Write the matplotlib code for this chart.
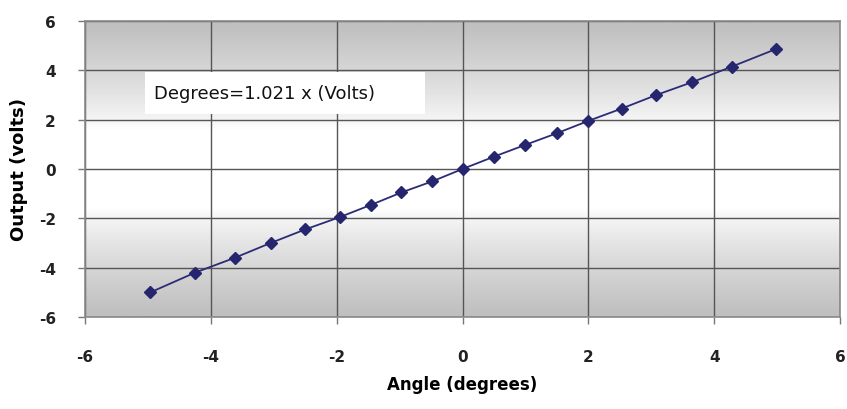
import numpy as np
import matplotlib
matplotlib.use("Agg")
import matplotlib.pyplot as plt
from matplotlib.colors import LinearSegmentedColormap
from matplotlib.patches import Rectangle

angle = [-4.96, -4.25, -3.62, -3.05, -2.5, -1.95, -1.45, -0.97, -0.48, 0.0,
         0.5, 1.0, 1.5, 2.0, 2.53, 3.08, 3.65, 4.28, 4.98]
output = [-5.0, -4.2, -3.6, -3.0, -2.45, -1.95, -1.45, -0.95, -0.5, 0.0,
          0.5, 0.98, 1.45, 1.95, 2.45, 3.0, 3.52, 4.15, 4.86]
ticks = [-6, -4, -2, 0, 2, 4, 6]
annotation = "Degrees=1.021 x (Volts)"

plt.rcParams['font.family'] = ['DejaVu Sans']

fig = plt.figure(figsize=(8.47, 4.10), dpi=100)
ax = fig.add_axes([85/847, 1-318/410, 755/847, 296/410])

# vertical gradient background: gray at top & bottom, white in middle
cmap = LinearSegmentedColormap.from_list("g", ["#ffffff", "#c0c0c0"], N=1024)
yy = np.linspace(-6, 6, 1200)
t = np.clip((np.abs(yy) - 1.6) / 4.2, 0, 1) ** 0.8
ax.imshow(t[:, None], extent=[-6, 6, -6, 6], aspect='auto', cmap=cmap,
          vmin=0, vmax=1, zorder=0, origin='lower', interpolation='bilinear')

ax.set_xlim(-6, 6)
ax.set_ylim(-6, 6)
ax.set_xticks(ticks)
ax.set_yticks(ticks)
ax.set_xticklabels([str(v) for v in ticks])
ax.set_yticklabels([str(v) for v in ticks])
ax.grid(True, color="#555555", linewidth=1.0, zorder=1)
ax.set_axisbelow(True)
for s in ax.spines.values():
    s.set_color("#8a8a8a")
    s.set_linewidth(1.2)

ax.tick_params(axis='both', direction='out', length=5, width=1, color="#777777",
               labelsize=11)
ax.tick_params(axis='x', pad=18)
ax.tick_params(axis='y', pad=16)
for lab in ax.get_xticklabels() + ax.get_yticklabels():
    lab.set_fontweight('bold')
    lab.set_color("#222222")

ax.plot(angle, output, color="#2b2b78", linewidth=1.3, marker='D',
        markersize=6, markerfacecolor="#26266e", markeredgecolor="#26266e", zorder=3)

ax.add_patch(Rectangle((-5.04, 2.23), 4.45, 1.70, facecolor='white',
                       edgecolor='none', zorder=4))
ax.text(-4.90, 3.08, annotation, fontsize=13, color="#111111",
        va='center', ha='left', zorder=5)

ax.set_xlabel("Angle (degrees)", fontsize=12, fontweight='bold', labelpad=8)
ax.set_ylabel("Output (volts)", fontsize=13, fontweight='bold', labelpad=8)

fig.savefig("out.png", dpi=100)
